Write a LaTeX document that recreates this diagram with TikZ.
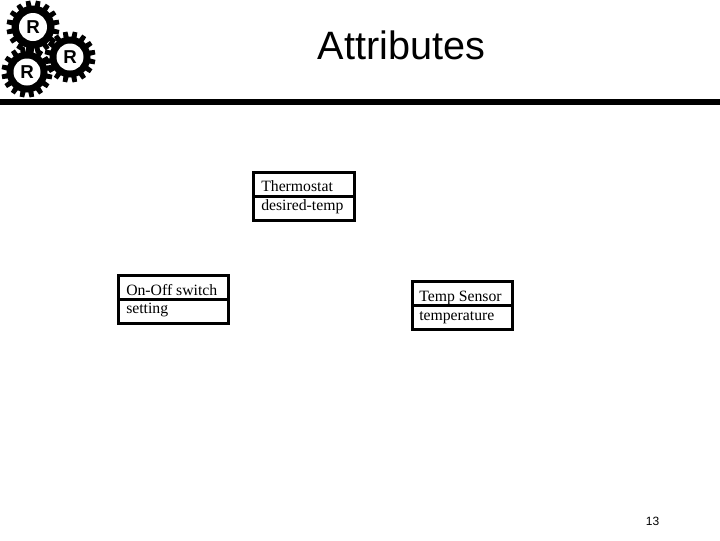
\documentclass[tikz,border=0pt]{standalone}
\usepackage{fontspec}
\setmainfont{Liberation Serif}
\newfontfamily\arialf{Liberation Sans}
\tikzset{
  x=0.75pt,y=-0.75pt,
  umlbox/.style={draw=black,line width=2.25pt,fill=white,minimum width=0pt},
  boxtext/.style={anchor=base west,inner sep=0pt,font=\fontsize{11.8}{14}\selectfont},
  gearhole/.style={circle,fill=white,inner sep=0pt,font=\arialf\bfseries\fontsize{14}{14}\selectfont},
  titletext/.style={inner sep=0pt,anchor=base,font=\arialf\fontsize{29.7}{34}\selectfont},
  pagenum/.style={inner sep=0pt,anchor=base,font=\arialf\fontsize{9}{11}\selectfont},
}
\newcommand{\gearat}[5]{% name, x, y, outer radius, hole radius
  \fill[black] (#2,#3) circle[radius=#4-5];
  \foreach \a in {0,22.5,...,337.5}{
    \fill[black,rotate around={\a+11:(#2,#3)}]
      (#2-3.6,#3) -- (#2-2.3,#3-#4) -- (#2+2.3,#3-#4) -- (#2+3.6,#3) -- cycle;
  }
  \node[gearhole,minimum size=#5*1.5pt] (#1) at (#2,#3) {R};
}
\begin{document}
\begin{tikzpicture}
\useasboundingbox (0,0) rectangle (720,540);
\fill[white] (0,0) rectangle (720,540);
\gearat{gearc}{27}{72}{25.5}{13.5}
\gearat{gearb}{70}{57}{25.5}{13.5}
\gearat{geara}{33}{27}{26.5}{14}
\fill[black] (0,99) rectangle (720,105);
\node[titletext] (title) at (401.5,59) {Attributes};
\node[pagenum] (page) at (652.5,525) {13};

\draw[umlbox] (253.5,172.5) rectangle (354,220);
\draw[line width=2.25pt] (253.5,196) -- (354,196);
\node[boxtext] (t1) at (261,191) {Thermostat};
\node[boxtext] (t2) at (261,210.5) {desired-temp};

\draw[umlbox] (118,275) rectangle (228,323);
\draw[line width=2.25pt] (118,299.5) -- (228,299.5);
\node[boxtext] (o1) at (126,295) {On-Off switch};
\node[boxtext] (o2) at (126,313.5) {setting};

\draw[umlbox] (412,281.5) rectangle (512,329);
\draw[line width=2.25pt] (412,305.5) -- (512,305.5);
\node[boxtext] (s1) at (419,301) {Temp Sensor};
\node[boxtext] (s2) at (419,320) {temperature};
\end{tikzpicture}
\end{document}
